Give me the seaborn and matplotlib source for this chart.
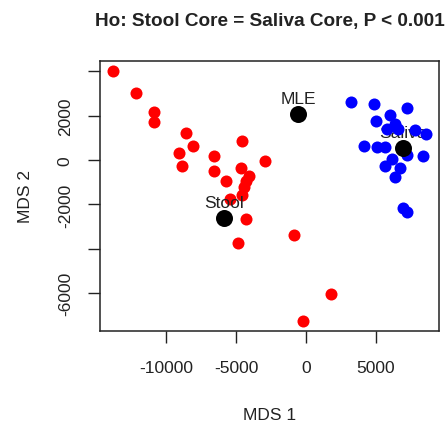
import matplotlib
matplotlib.use("Agg")
import matplotlib.pyplot as plt
import seaborn as sns
import pandas as pd

# Stool samples (red)
stool_x = [-13800, -12150, -10850, -10850, -8570, -8070, -9070, -8860, -6570, -6570,
           -5710, -4570, -4640, -4070, -2930, -4290, -4430, -4570, -5430, -4290,
           -4860, -860, 1790, -210]
stool_y = [4000, 3000, 2150, 1700, 1200, 630, 300, -270, 180, -500,
           -950, 850, -360, -720, -50, -950, -1220, -1580, -1750, -2650,
           -3740, -3380, -6030, -7250]
# Saliva samples (blue)
saliva_x = [3190, 4880, 7240, 6000, 5000, 6360, 7790, 8570, 5790, 6570,
            4160, 5050, 5640, 6120, 7240, 8380, 5640, 6710, 6360, 6950, 7240]
saliva_y = [2600, 2520, 2330, 2030, 1740, 1620, 1360, 1170, 1400, 1400,
            640, 570, 570, 45, 225, 190, -280, -370, -780, -2170, -2350]
# Centroids (black)
cent_names = ["MLE", "Stool", "Saliva"]
cent_x = [-550, -5880, 6910]
cent_y = [2070, -2620, 530]

x_ticks = [-10000, -5000, 0, 5000]
y_ticks = [-6000, -4000, -2000, 0, 2000, 4000]
y_tick_labels = ["-6000", "", "-2000", "0", "2000", ""]

sns.set_style("ticks")
plt.rcParams["font.family"] = ["Liberation Sans", "DejaVu Sans"]

df = pd.DataFrame({
    "MDS 1": stool_x + saliva_x,
    "MDS 2": stool_y + saliva_y,
    "group": ["Stool"] * len(stool_x) + ["Saliva"] * len(saliva_x),
})
cdf = pd.DataFrame({"MDS 1": cent_x, "MDS 2": cent_y, "name": cent_names})

fig = plt.figure(figsize=(4.46, 4.27), dpi=100)
ax = fig.add_axes([0.2242, 0.2225, 0.7601, 0.6323])

sns.scatterplot(data=df[df.group == "Stool"], x="MDS 1", y="MDS 2", color="#ff0000",
                s=75, linewidth=0, ax=ax, legend=False, zorder=2)
for n, xv, yv in zip(cent_names, cent_x, cent_y):
    ax.annotate(n, (xv, yv), xytext=(0, 11), textcoords="offset points",
                ha="center", va="center", fontsize=12.5, color="#222222", zorder=3)
sns.scatterplot(data=df[df.group == "Saliva"], x="MDS 1", y="MDS 2", color="#0000ff",
                s=75, linewidth=0, ax=ax, legend=False, zorder=4)
sns.scatterplot(data=cdf, x="MDS 1", y="MDS 2", color="black", s=150,
                linewidth=0, ax=ax, legend=False, zorder=5)

ax.set_xlim(-14714, 9500)
ax.set_ylim(-7700, 4460)
ax.set_xticks(x_ticks)
ax.set_xticklabels([str(v) for v in x_ticks])
ax.set_yticks(y_ticks)
ax.set_yticklabels(y_tick_labels, rotation=90, va="center")
ax.tick_params(axis="both", direction="out", length=8.6, width=1, color="#222222",
               labelsize=12.5, labelcolor="#222222")
ax.tick_params(axis="x", pad=12)
ax.tick_params(axis="y", pad=11)
for sp in ax.spines.values():
    sp.set_visible(True)
    sp.set_color("#222222")
    sp.set_linewidth(1.1)

ax.set_xlabel("MDS 1", fontsize=12.5, color="#222222", labelpad=23)
ax.set_ylabel("MDS 2", fontsize=12.5, color="#222222", labelpad=18)
ax.set_title("Ho: Stool Core = Saliva Core, P < 0.001", fontsize=13.7,
             fontweight="bold", color="#222222", pad=26)

fig.savefig("out.png", dpi=100)
